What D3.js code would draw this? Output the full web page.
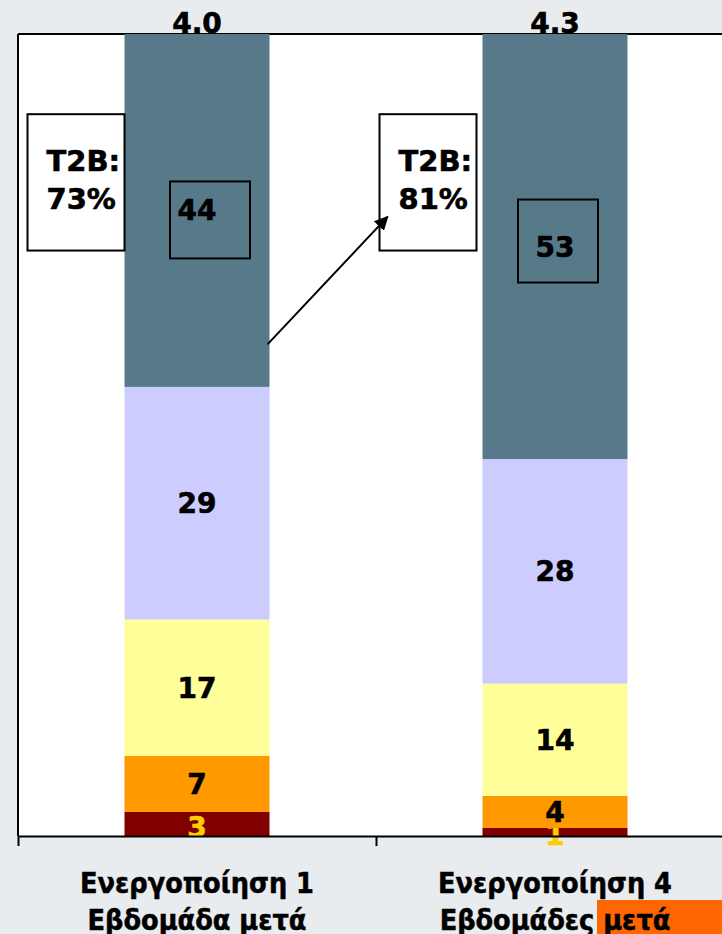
<!DOCTYPE html>
<html>
<head>
<meta charset="utf-8">
<script src="https://cdn.jsdelivr.net/npm/d3@7"></script>
<style>
  html, body { margin: 0; padding: 0; background: #e9ecee; }
  svg { display: block; }
  .num { font-family: "DejaVu Sans", Verdana, sans-serif; font-weight: bold; stroke-width: 0.6px; }
  .cat { font-family: "DejaVu Sans Condensed", "DejaVu Sans", sans-serif; font-stretch: condensed; font-weight: bold; stroke: #000; stroke-width: 0.5px; }
</style>
</head>
<body>
<div id="chart"></div>
<script>
// data, bottom segment first
const labelLine1 = ["Ενεργοποίηση 1", "Ενεργοποίηση 4"];
const labelLine2 = ["Εβδομάδα μετά", "Εβδομάδες μετά"];
const level1 = [3, 1];
const level2 = [7, 4];
const level3 = [17, 14];
const level4 = [29, 28];
const level5 = [44, 53];
const means = ["4.0", "4.3"];
const t2b = [73, 81];

const levelKeys = ["l1", "l2", "l3", "l4", "l5"];
const levelColors = ["#800000", "#ff9900", "#ffff99", "#ccccff", "#577a8a"];
const labelColors = ["#ffcc00", "#000", "#000", "#000", "#000"];

const rows = labelLine1.map((c, i) => ({
    cat: c, l1: level1[i], l2: level2[i], l3: level3[i], l4: level4[i], l5: level5[i]
}));

const width = 722, height = 934;
const plot = {left: 18, top: 34, bottom: 836, right: 734};

const svg = d3.select("#chart").append("svg")
    .attr("width", width)
    .attr("height", height);

const x = d3.scaleBand()
    .domain(labelLine1)
    .range([plot.left, plot.right])
    .paddingInner(0.595)
    .paddingOuter(0.2975);

const y = d3.scaleLinear()
    .domain([0, 100])
    .range([plot.bottom, plot.top]);

// plot area
svg.append("rect")
    .attr("x", plot.left).attr("y", plot.top)
    .attr("width", width - plot.left).attr("height", plot.bottom - plot.top)
    .attr("fill", "#fff");
svg.append("line")
    .attr("x1", plot.left).attr("x2", width)
    .attr("y1", plot.top).attr("y2", plot.top)
    .attr("stroke", "#000").attr("stroke-width", 2);
svg.append("line")
    .attr("x1", plot.left).attr("x2", plot.left)
    .attr("y1", plot.top).attr("y2", plot.bottom)
    .attr("stroke", "#000").attr("stroke-width", 2);

// stacked bars
const stack = d3.stack().keys(levelKeys)(rows);

const layers = svg.append("g").selectAll("g")
    .data(stack)
    .join("g")
    .attr("fill", (d, i) => levelColors[i]);

layers.selectAll("rect")
    .data(d => d)
    .join("rect")
    .attr("x", d => x(d.data.cat))
    .attr("width", x.bandwidth())
    .attr("y", d => y(d[1]))
    .attr("height", d => y(d[0]) - y(d[1]));

// bottom axis with ticks at band edges
const xEdge = d3.scaleLinear().domain([0, labelLine1.length]).range([plot.left, plot.right]);
const axis = svg.append("g")
    .attr("transform", `translate(0,${plot.bottom})`)
    .call(d3.axisBottom(xEdge).tickValues(d3.range(labelLine1.length + 1)).tickSize(10).tickSizeOuter(0).tickFormat(""));
axis.select(".domain").attr("stroke", "#000").attr("stroke-width", 2);
axis.selectAll(".tick line").attr("stroke", "#000").attr("stroke-width", 2);

// segment labels
layers.each(function(layer, li) {
    d3.select(this).selectAll("text")
        .data(layer)
        .join("text")
        .attr("class", "num")
        .attr("x", d => x(d.data.cat) + x.bandwidth() / 2)
        .attr("y", d => (y(d[0]) + y(d[1])) / 2 + 10 + (li === 0 ? 3 : 0))
        .attr("text-anchor", "middle")
        .attr("font-size", 28)
        .attr("fill", labelColors[li])
        .attr("stroke", labelColors[li])
        .text(d => d[1] - d[0]);
});

// boxes around the top segment values
const topBoxDx = [-27, -37];
svg.append("g").selectAll("rect")
    .data(stack[4])
    .join("rect")
    .attr("x", (d, i) => x(d.data.cat) + x.bandwidth() / 2 + topBoxDx[i])
    .attr("y", d => (y(d[0]) + y(d[1])) / 2 - 30 + (d.data.cat === labelLine1[0] ? 1 : -17) + 0)
    .attr("width", 80)
    .attr("height", (d, i) => i === 0 ? 77 : 83)
    .attr("fill", "none")
    .attr("stroke", "#000")
    .attr("stroke-width", 2);

// mean labels on top
svg.append("g").selectAll("text")
    .data(rows)
    .join("text")
    .attr("class", "num")
    .attr("stroke", "#000")
    .attr("x", d => x(d.cat) + x.bandwidth() / 2)
    .attr("y", y(100) - 1)
    .attr("text-anchor", "middle")
    .attr("font-size", 28)
    .text((d, i) => means[i]);

// T2B boxes
const t2bBoxes = svg.append("g").selectAll("g")
    .data(rows)
    .join("g")
    .attr("transform", (d, i) => `translate(${x(d.cat) - (i === 0 ? 97 : 103)},${y(90)})`);
t2bBoxes.append("rect")
    .attr("width", 97)
    .attr("height", y(t2b[0]) - y(90))
    .attr("fill", "#fff")
    .attr("stroke", "#000")
    .attr("stroke-width", 2);
t2bBoxes.append("text")
    .attr("class", "num")
    .attr("stroke", "#000")
    .attr("x", 19).attr("y", 57)
    .attr("font-size", 29)
    .text("T2B:");
t2bBoxes.append("text")
    .attr("class", "num")
    .attr("stroke", "#000")
    .attr("x", 19).attr("y", 95)
    .attr("font-size", 29)
    .text((d, i) => t2b[i] + "%");

// arrow
svg.append("defs").append("marker")
    .attr("id", "arrow")
    .attr("viewBox", "0 0 10 10")
    .attr("refX", 9).attr("refY", 5)
    .attr("markerWidth", 7).attr("markerHeight", 7)
    .attr("orient", "auto")
    .append("path")
    .attr("d", "M0,0L10,5L0,10Z")
    .attr("fill", "#000");
svg.append("line")
    .attr("x1", x(labelLine1[0]) + x.bandwidth() - 2)
    .attr("y1", y(61.3))
    .attr("x2", x(labelLine1[1]) - 95)
    .attr("y2", y(77.2))
    .attr("stroke", "#000")
    .attr("stroke-width", 2)
    .attr("marker-end", "url(#arrow)");

// highlight behind the second category label
svg.append("rect")
    .attr("x", 597).attr("y", 900)
    .attr("width", width - 597).attr("height", height - 900)
    .attr("fill", "#ff6600");

// category labels
const cats = svg.append("g").selectAll("text")
    .data(rows)
    .join("text")
    .attr("class", "cat")
    .attr("x", d => x(d.cat) + x.bandwidth() / 2)
    .attr("text-anchor", "middle")
    .attr("font-size", 28.5);
cats.append("tspan").attr("x", d => x(d.cat) + x.bandwidth() / 2).attr("y", 893).text((d, i) => labelLine1[i]);
cats.append("tspan").attr("x", d => x(d.cat) + x.bandwidth() / 2).attr("y", 930).text((d, i) => labelLine2[i]);
</script>
</body>
</html>
